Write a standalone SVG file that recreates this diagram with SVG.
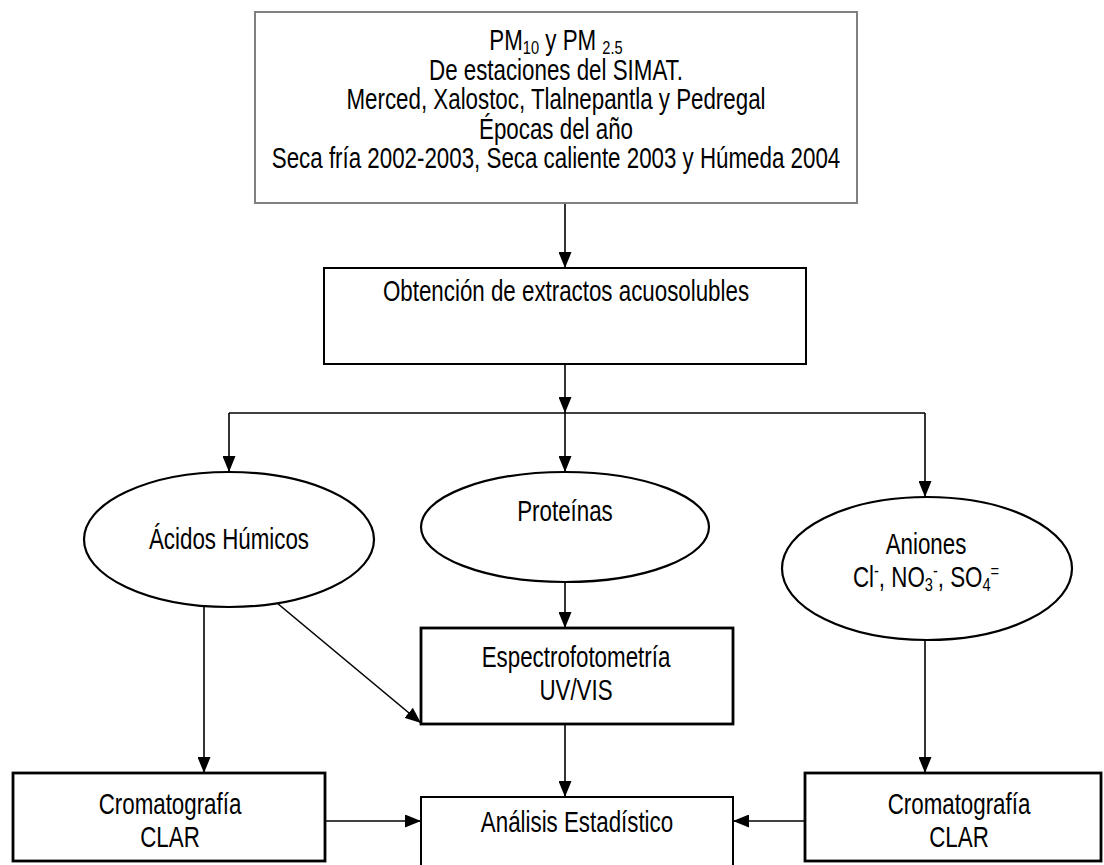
<svg xmlns="http://www.w3.org/2000/svg" width="1104" height="865" viewBox="0 0 1104 865">
<style>
text{font-family:"Liberation Sans Narrow","Liberation Sans",Arial,sans-serif;font-size:29px;fill:#000;text-anchor:middle}
.sub{font-size:19px}
.con{stroke:#000;stroke-width:1.6;fill:none}
.box{fill:#fff;stroke:#000;stroke-width:2}
.thick{fill:#fff;stroke:#000;stroke-width:2.8}
.ell{fill:#fff;stroke:#000;stroke-width:2.2}
</style>
<defs>
<marker id="ah" markerUnits="userSpaceOnUse" markerWidth="16" markerHeight="13" refX="16" refY="6.5" orient="auto">
<path d="M0,0 L16,6.5 L0,13 Z" fill="#000"/>
</marker>
</defs>
<rect width="1104" height="865" fill="#fff"/>
<g id="connectors">
<line class="con" x1="565" y1="203" x2="565" y2="268" marker-end="url(#ah)"/>
<line class="con" x1="565" y1="364" x2="565" y2="413" marker-end="url(#ah)"/>
<line class="con" x1="229" y1="413" x2="925" y2="413"/>
<line class="con" x1="229" y1="413" x2="229" y2="472" marker-end="url(#ah)"/>
<line class="con" x1="565" y1="413" x2="565" y2="472" marker-end="url(#ah)"/>
<line class="con" x1="925" y1="413" x2="925" y2="497" marker-end="url(#ah)"/>
<line class="con" x1="204" y1="605" x2="204" y2="773" marker-end="url(#ah)"/>
<line class="con" x1="277" y1="603" x2="421" y2="723" marker-end="url(#ah)"/>
<line class="con" x1="565" y1="582" x2="565" y2="628" marker-end="url(#ah)"/>
<line class="con" x1="565" y1="724" x2="565" y2="797" marker-end="url(#ah)"/>
<line class="con" x1="925" y1="628" x2="925" y2="773" marker-end="url(#ah)"/>
<line class="con" x1="325" y1="821" x2="421" y2="821" marker-end="url(#ah)"/>
<line class="con" x1="805" y1="821" x2="733" y2="821" marker-end="url(#ah)"/>
</g>
<g id="source">
<rect x="255" y="12" width="602" height="191" fill="#fff" stroke="#808080" stroke-width="2"/>
<text transform="translate(556,50) scale(0.77,1)">PM<tspan class="sub" dy="4">10</tspan><tspan dy="-4"> y PM </tspan><tspan class="sub" dy="4">2.5</tspan></text>
<text transform="translate(556,79.5) scale(0.77,1)">De estaciones del SIMAT.</text>
<text transform="translate(556,109) scale(0.77,1)">Merced, Xalostoc, Tlalnepantla y Pedregal</text>
<text transform="translate(556,138.5) scale(0.77,1)">Épocas del año</text>
<text transform="translate(556,168) scale(0.77,1)">Seca fría 2002-2003, Seca caliente 2003 y Húmeda 2004</text>
</g>
<g id="extractos">
<rect class="box" x="324" y="268" width="482" height="96"/>
<text transform="translate(566,301) scale(0.77,1)">Obtención de extractos acuosolubles</text>
</g>
<g id="acidos">
<ellipse class="ell" cx="229" cy="539.5" rx="145" ry="67.5"/>
<text transform="translate(229,549) scale(0.77,1)">Ácidos Húmicos</text>
</g>
<g id="proteinas">
<ellipse class="ell" cx="565" cy="527" rx="144" ry="55"/>
<text transform="translate(565,521) scale(0.77,1)">Proteínas</text>
</g>
<g id="aniones">
<ellipse class="ell" cx="927" cy="568.5" rx="145" ry="71.5"/>
<text transform="translate(926,554) scale(0.77,1)">Aniones</text>
<text transform="translate(926,587) scale(0.77,1)">Cl<tspan class="sub" dy="-10">-</tspan><tspan dy="10">, NO</tspan><tspan class="sub" dy="4">3</tspan><tspan class="sub" dy="-14">-</tspan><tspan dy="10">, SO</tspan><tspan class="sub" dy="4">4</tspan><tspan class="sub" dy="-14">=</tspan></text>
</g>
<g id="espectro">
<rect class="thick" x="421" y="628" width="312" height="96"/>
<text transform="translate(576,667) scale(0.77,1)">Espectrofotometría</text>
<text transform="translate(576,700) scale(0.77,1)">UV/VIS</text>
</g>
<g id="clar-left">
<rect class="thick" x="13" y="773" width="312" height="88"/>
<text transform="translate(170,814) scale(0.77,1)">Cromatografía</text>
<text transform="translate(170,847) scale(0.77,1)">CLAR</text>
</g>
<g id="analisis">
<rect class="box" x="421" y="797" width="312" height="80"/>
<text transform="translate(577,832) scale(0.77,1)">Análisis Estadístico</text>
</g>
<g id="clar-right">
<rect class="thick" x="805" y="773" width="296" height="88"/>
<text transform="translate(959,814) scale(0.77,1)">Cromatografía</text>
<text transform="translate(959,847) scale(0.77,1)">CLAR</text>
</g>
</svg>
